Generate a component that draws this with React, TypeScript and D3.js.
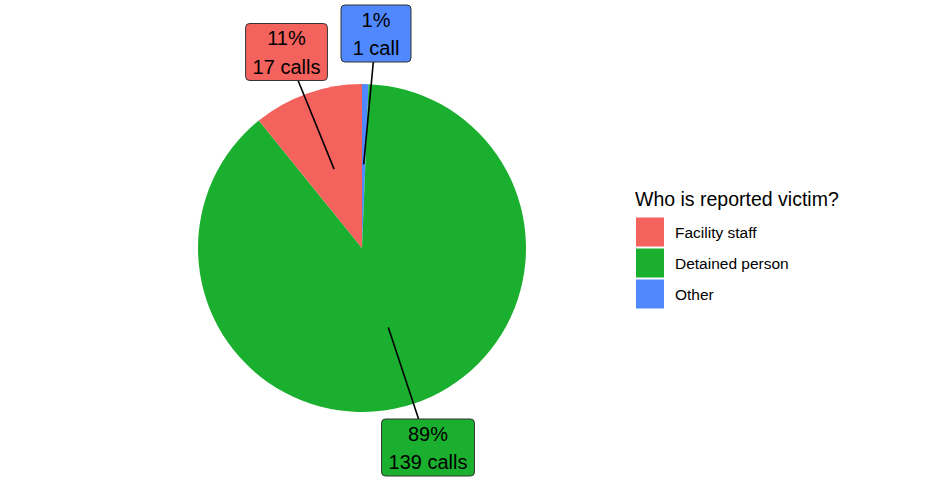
import React from "react";
import * as d3 from "d3";

const categories = ["Facility staff", "Detained person", "Other"];
const values = [17, 139, 1];
const unitSingular = "call";
const unitPlural = "calls";
const colors = ["#F4625E", "#1AAF2E", "#5088FF"];
const legendTitle = "Who is reported victim?";

// repelled label box centres, offsets from pie centre (layout)
const labelOffsets: [number, number][] = [
  [-75.5, -196],
  [66, 199.5],
  [14, -214.5],
];

const W = 940;
const H = 489;
const cx = 362;
const cy = 248;
const R = 164;
const FONT = "'Liberation Sans', Arial, Helvetica, sans-serif";

function measure(text: string, size: number): number {
  const c = document.createElement("canvas").getContext("2d");
  if (!c) return text.length * size * 0.5;
  c.font = `${size}px ${FONT}`;
  return c.measureText(text).width;
}

export default function App() {
  const total = d3.sum(values);
  // ggplot polar: last level starts at top, going clockwise
  const order = [2, 1, 0];
  const pie = d3
    .pie<number>()
    .sort(null)
    .value((i) => values[i]);
  const arcs = pie(order);
  const arcGen = d3.arc<d3.PieArcDatum<number>>().innerRadius(0).outerRadius(R);

  const boxH = 57;
  const labels = arcs.map((a) => {
    const i = a.data;
    const mid = (a.startAngle + a.endAngle) / 2;
    const pr = R * 0.51;
    const px = cx + pr * Math.sin(mid);
    const py = cy - pr * Math.cos(mid);
    const l1 = `${Math.round((values[i] / total) * 100)}%`;
    const l2 = `${values[i]} ${values[i] === 1 ? unitSingular : unitPlural}`;
    const tw = Math.max(measure(l1, 20), measure(l2, 20));
    const bw = Math.max(tw + 14, 70);
    const bx = cx + labelOffsets[i][0];
    const by = cy + labelOffsets[i][1];
    // clip segment from point to box centre at box edge
    const dx = bx - px;
    const dy = by - py;
    let t = 1;
    const tx = dx !== 0 ? (Math.abs(dx) - bw / 2) / Math.abs(dx) : 1;
    const ty = dy !== 0 ? (Math.abs(dy) - boxH / 2) / Math.abs(dy) : 1;
    t = Math.min(1, Math.max(tx, ty));
    return { i, px, py, ex: px + dx * t, ey: py + dy * t, bx, by, bw, l1, l2 };
  });

  const legX = 636;
  const legY0 = 217.5;
  const keyW = 28;
  const keyH = 29;
  const pitch = 31;

  return (
    <svg width={W} height={H} style={{ position: "absolute", left: 0, top: 0 }} fontFamily={FONT}>
      <rect width={W} height={H} fill="#fff" />
      {arcs.map((a) => (
        <path
          key={a.data}
          d={arcGen(a) || ""}
          transform={`translate(${cx},${cy})`}
          fill={colors[a.data]}
        />
      ))}
      {labels.map((l) => (
        <g key={l.i}>
          <line x1={l.px} y1={l.py} x2={l.ex} y2={l.ey} stroke="#000" strokeWidth={1.6} />
          <rect
            x={l.bx - l.bw / 2}
            y={l.by - boxH / 2}
            width={l.bw}
            height={boxH}
            rx={4}
            fill={colors[l.i]}
            stroke="#333"
            strokeWidth={1}
          />
          <text x={l.bx} y={l.by - boxH / 2 + 21.5} fontSize={20} textAnchor="middle" fill="#000">
            {l.l1}
          </text>
          <text x={l.bx} y={l.by - boxH / 2 + 50} fontSize={20} textAnchor="middle" fill="#000">
            {l.l2}
          </text>
        </g>
      ))}
      <text x={635} y={206} fontSize={19.5} fill="#000">
        {legendTitle}
      </text>
      {categories.map((c, i) => (
        <g key={c}>
          <rect x={legX} y={legY0 + i * pitch} width={keyW} height={keyH} fill={colors[i]} />
          <text x={675} y={legY0 + i * pitch + keyH / 2 + 5.5} fontSize={15.5} fill="#000">
            {c}
          </text>
        </g>
      ))}
    </svg>
  );
}
